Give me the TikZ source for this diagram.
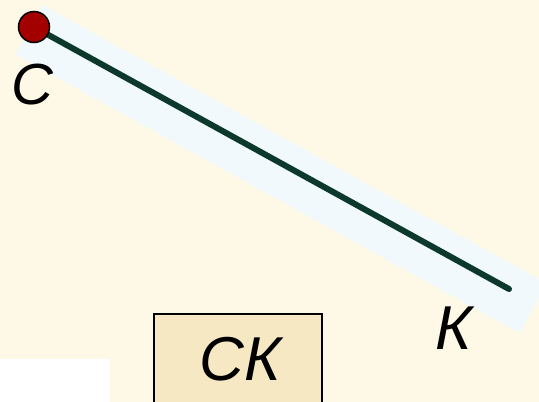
\documentclass[tikz,border=0pt]{standalone}
\usepackage{fontspec}
\setmainfont{Liberation Sans}
\definecolor{bgcream}{HTML}{FEF9E7}
\definecolor{bandblue}{HTML}{F1F9FC}
\definecolor{segcol}{HTML}{0D392C}
\definecolor{dotred}{HTML}{A30000}
\definecolor{boxtan}{HTML}{F5E8C2}
\tikzset{
  lbl/.style={inner sep=0pt, font=\fontsize{58}{58}\selectfont\itshape},
  biglbl/.style={inner sep=0pt, font=\fontsize{62}{62}\selectfont\itshape},
  segment/.style={draw=segcol, line width=6pt, line cap=round},
  pointdot/.style={circle, fill=dotred, draw=black, line width=1.5pt, minimum size=31pt, inner sep=0pt},
  answerbox/.style={draw=black, line width=1.6pt, fill=boxtan, inner sep=0pt}
}
\begin{document}
\begin{tikzpicture}[x=1pt,y=-1pt]
\useasboundingbox (0,0) rectangle (539,402);
\clip (0,0) rectangle (539,402);
\fill[bgcream] (0,0) rectangle (539,402);
\fill[bandblue] (42.7,5.0) -- (546.9,283.5) -- (519.5,333.0) -- (15.4,54.4) -- cycle;
\fill[white] (0,359) rectangle (110,402);
\coordinate (C) at (34,27);
\coordinate (K) at (509,289);
\draw[segment] (C) -- (K);
\node[pointdot] (dotC) at (C) {};
\node[lbl] (labC) at (32,84.5) {С};
\node[biglbl] (labK) at (454,328.5) {К};
\node[answerbox, minimum width=168pt, minimum height=110pt, anchor=north] (box) at (238,313) {};
\node[biglbl] (ck) at (240,359) {СК};
\end{tikzpicture}
\end{document}
